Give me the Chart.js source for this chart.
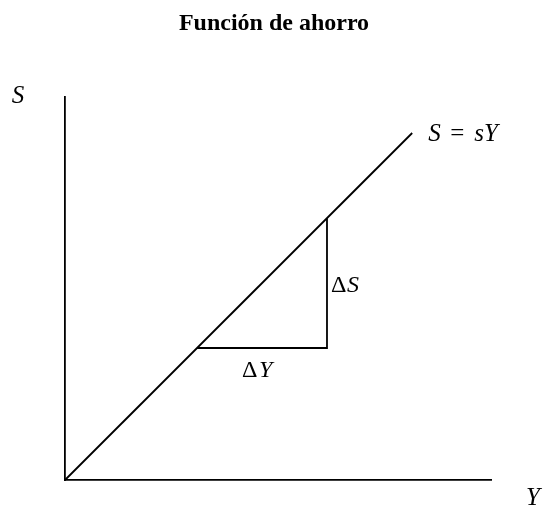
<!DOCTYPE html>
<html>
<head>
<meta charset="utf-8">
<script src="https://cdn.jsdelivr.net/npm/chart.js@4"></script>
<style>
  html, body { margin: 0; padding: 0; background: #fff; }
  #wrap { width: 543px; height: 509px; }
</style>
</head>
<body>
<div id="wrap"><canvas id="chartAhorro"></canvas></div>
<script>
/*-------------------
    FUNCION DE AHORRO
--------------------*/

// recta S = sY (s = 1 en unidades del gráfico)
const lineaY = [0, 8.15];
const lineaS = [0, 8.15];

// triángulo de pendiente: ΔY horizontal, ΔS vertical
const trianguloY = [3.1, 6.15, 6.15];
const trianguloS = [3.1, 3.1, 6.15];

const ejeYMax = 10;
const ejeSMax = 9;

const serif = '"Liberation Serif", "DejaVu Serif", serif';

const etiquetas = {
    id: 'etiquetas',
    afterDraw(chart) {
        const {ctx, chartArea, scales} = chart;
        const x = scales.x, y = scales.y;
        ctx.save();
        ctx.fillStyle = '#000';
        ctx.textBaseline = 'middle';

        // nombres de los ejes
        ctx.font = 'italic 25px ' + serif;
        ctx.textAlign = 'center';
        ctx.fillText('S', chartArea.left - 47, chartArea.top);
        ctx.fillText('Y', chartArea.right + 42, chartArea.bottom + 18);

        // S = sY junto al extremo de la recta
        const px = x.getPixelForValue(lineaY[1]);
        const py = y.getPixelForValue(lineaS[1]);
        ctx.textAlign = 'left';
        ctx.fillText('S', px + 16, py + 1);
        ctx.font = '25px ' + serif;
        ctx.fillText('=', px + 38, py + 1);
        ctx.font = 'italic 25px ' + serif;
        ctx.fillText('sY', px + 62, py + 1);

        // ΔS
        const vx = x.getPixelForValue(trianguloY[1]);
        const vy = (y.getPixelForValue(trianguloS[1]) + y.getPixelForValue(trianguloS[2])) / 2;
        ctx.font = '24px ' + serif;
        ctx.fillText('\u0394', vx + 4, vy + 3);
        ctx.font = 'italic 24px ' + serif;
        ctx.fillText('S', vx + 20, vy + 3);

        // ΔY
        const hx = (x.getPixelForValue(trianguloY[0]) + x.getPixelForValue(trianguloY[1])) / 2;
        const hy = y.getPixelForValue(trianguloS[0]);
        ctx.font = '24px ' + serif;
        ctx.fillText('\u0394', hx - 20, hy + 23);
        ctx.font = 'italic 24px ' + serif;
        ctx.fillText('Y', hx - 3, hy + 23);

        ctx.restore();
    }
};

const canvas = document.getElementById('chartAhorro');

if(canvas) {
    new Chart(canvas,{
        type: 'scatter',
        data:{
            datasets:[
                {
                    label: 'S = sY',
                    data: lineaY.map((v, i) => ({x: v, y: lineaS[i]})),
                    showLine: true,
                    borderColor: '#000',
                    borderWidth: 1.8,
                    pointRadius: 0,
                    clip: false,
                },
                {
                    label: 'pendiente',
                    data: trianguloY.map((v, i) => ({x: v, y: trianguloS[i]})),
                    showLine: true,
                    borderColor: '#000',
                    borderWidth: 1.8,
                    pointRadius: 0,
                    clip: false,
                }
            ]
        },
        options:{
            responsive: true,
            maintainAspectRatio: false,
            animation: false,
            layout:{padding:{left: 57, right: 52, top: 0, bottom: 21}},
            plugins:{
                legend:{display: false},
                tooltip:{enabled: false},
                title:{
                    display: true,
                    text: 'Función de ahorro',
                    color: '#000',
                    font:{family: serif, size: 24, weight: 'bold'},
                    padding:{top: 9, bottom: 59}
                }
            },
            scales:{
                x:{
                    min: 0, max: ejeYMax,
                    ticks:{display: false},
                    grid:{display: false},
                    border:{display: true, color: '#000', width: 1.8}
                },
                y:{
                    min: 0, max: ejeSMax,
                    ticks:{display: false},
                    grid:{display: false},
                    border:{display: true, color: '#000', width: 1.8}
                }
            }
        },
        plugins: [etiquetas]
    });
}
</script>
</body>
</html>
